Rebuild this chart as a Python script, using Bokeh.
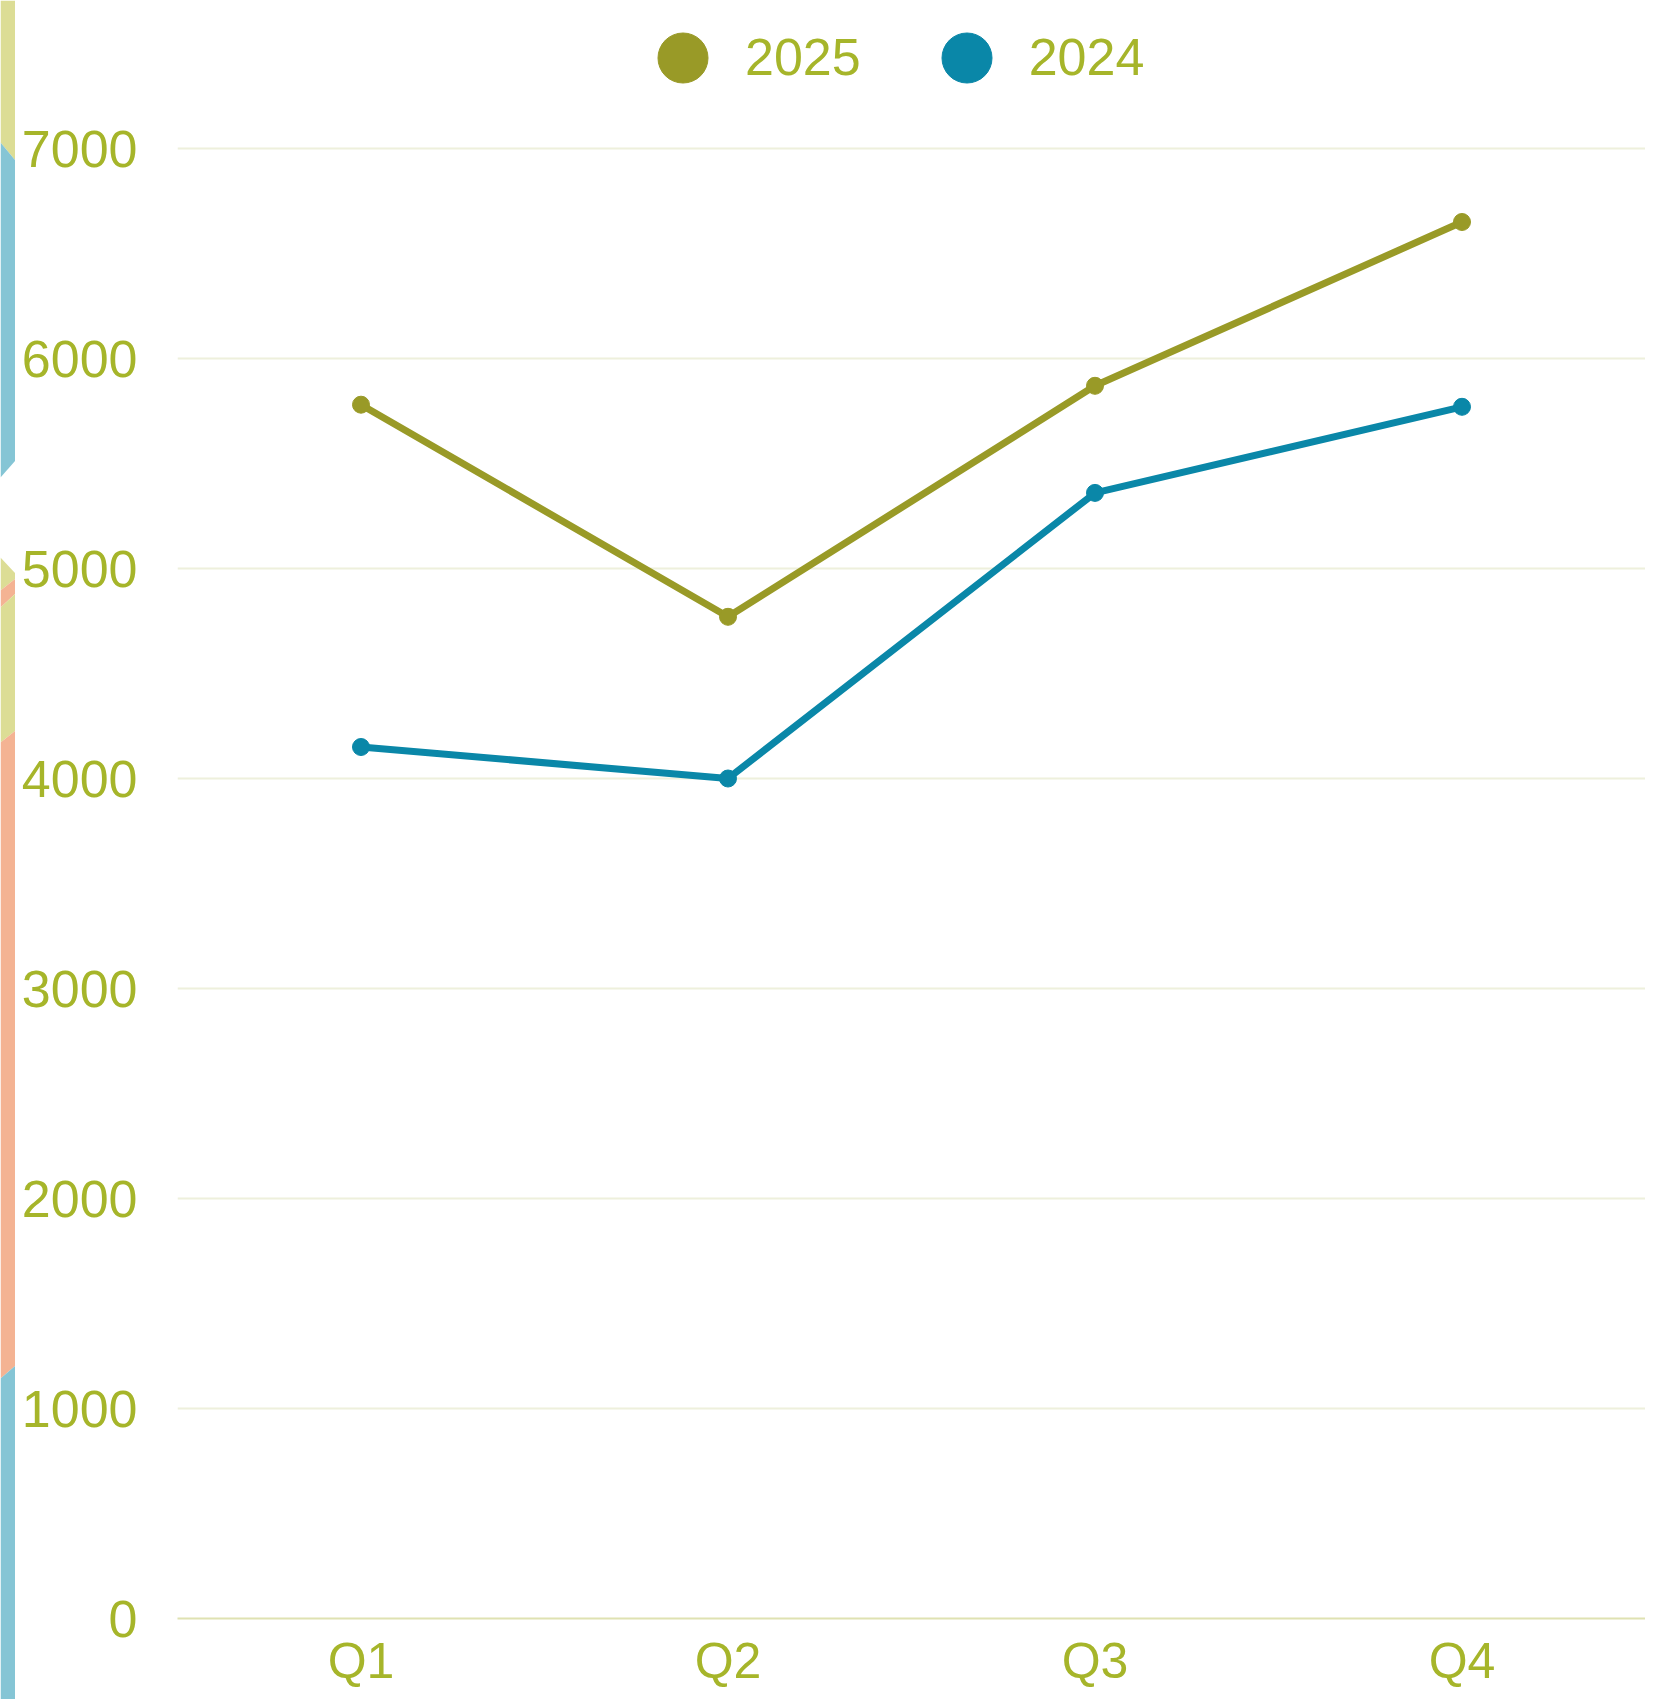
from bokeh.plotting import figure
from bokeh.layouts import row, column
from bokeh.models import (FactorRange, Range1d, FixedTicker, Legend, LegendItem)
from bokeh.embed import file_html
from bokeh.resources import INLINE

# ---- data ----
quarters = ["Q1", "Q2", "Q3", "Q4"]
sales_2025 = [5780, 4770, 5870, 6650]
sales_2024 = [4150, 4000, 5360, 5770]
series_names = ["2025", "2024"]
y_ticks = [0, 1000, 2000, 3000, 4000, 5000, 6000, 7000]

# ---- styles ----
C2025 = "#999a27"
C2024 = "#0a87a8"
TXT = "#a6b52a"
GRID = "#eef0dc"
FONT = "Liberation Sans"
OLIVE_L = "#dcdd95"
BLUE_L = "#85c5d5"
PEACH = "#f4b393"

W, H = 1645, 1699
STRIPE_W = 15
MAIN_H = 1695
FRAME_BOTTOM = 1618          # screen y of value 0
PX_PER_1000 = 210            # vertical scale
y_top = max(y_ticks) * FRAME_BOTTOM / (PX_PER_1000 * max(y_ticks) / 1000)

# ---- main chart ----
p = figure(x_range=FactorRange(*quarters), y_range=Range1d(0, y_top),
           width=W - STRIPE_W, height=MAIN_H, output_backend="svg",
           toolbar_location=None,
           min_border_left=162, min_border_right=0, min_border_top=0,
           min_border_bottom=MAIN_H - FRAME_BOTTOM)
p.outline_line_color = None
p.background_fill_color = "white"
p.border_fill_color = "white"

p.xgrid.grid_line_color = None
p.ygrid.grid_line_color = GRID
p.ygrid.grid_line_width = 2
p.yaxis.ticker = FixedTicker(ticks=y_ticks)

for ax in (p.xaxis[0], p.yaxis[0]):
    ax.major_tick_line_color = None
    ax.minor_tick_line_color = None
    ax.major_tick_out = 0
    ax.major_tick_in = 0
    ax.major_label_text_font = FONT
    ax.major_label_text_color = TXT
p.yaxis.major_label_text_font_size = "52px"
p.xaxis.major_label_text_font_size = "50px"
p.yaxis.axis_line_color = None
p.xaxis.axis_line_color = "#dfe2b2"
p.xaxis.axis_line_width = 2
p.yaxis.major_label_standoff = 40
p.xaxis.major_label_standoff = 14

p.line(quarters, sales_2025, line_color=C2025, line_width=7)
r25 = p.scatter(quarters, sales_2025, size=17, fill_color=C2025, line_color=C2025)
p.line(quarters, sales_2024, line_color=C2024, line_width=7)
r24 = p.scatter(quarters, sales_2024, size=17, fill_color=C2024, line_color=C2024)

legend = Legend(items=[LegendItem(label=series_names[0], renderers=[r25]),
                       LegendItem(label=series_names[1], renderers=[r24])],
                orientation="horizontal", location=(443, FRAME_BOTTOM - 119.5),
                glyph_width=125, glyph_height=125, label_standoff=0,
                spacing=43, padding=0, margin=0,
                border_line_color=None, background_fill_alpha=0,
                label_text_font=FONT, label_text_font_size="52px",
                label_text_color=TXT)
p.add_layout(legend, "center")

# ---- decorative left stripe (page background ornament) ----
stripe_colors = [OLIVE_L, BLUE_L, OLIVE_L, PEACH, OLIVE_L, PEACH, BLUE_L]
stripe_xs = [[0, 15, 15, 0]] * 7
stripe_ys = [[0, 0, 160, 142], [142, 160, 460, 477], [557, 573, 578, 590],
             [590, 578, 593, 607], [607, 593, 730, 742], [742, 730, 1365, 1378],
             [1378, 1365, H, H]]
s = figure(width=STRIPE_W, height=H, x_range=Range1d(0, STRIPE_W),
           y_range=Range1d(H, 0), output_backend="svg", toolbar_location=None,
           min_border=0, x_axis_location=None, y_axis_location=None)
s.outline_line_color = None
s.grid.grid_line_color = None
s.patches(stripe_xs, stripe_ys, fill_color=stripe_colors, line_color=None)

# ---- decorative bottom strip ----
b = figure(width=W - STRIPE_W, height=H - MAIN_H, x_range=Range1d(STRIPE_W, W),
           y_range=Range1d(H, MAIN_H), output_backend="svg", toolbar_location=None,
           min_border=0, x_axis_location=None, y_axis_location=None)
b.outline_line_color = None
b.grid.grid_line_color = None
b.patch([STRIPE_W, 250, 254, STRIPE_W], [MAIN_H, MAIN_H, H, H],
        fill_color=OLIVE_L, line_color=None)

layout = row(s, column(p, b, spacing=0), spacing=0)
open("out.html", "w").write(file_html(layout, INLINE))
